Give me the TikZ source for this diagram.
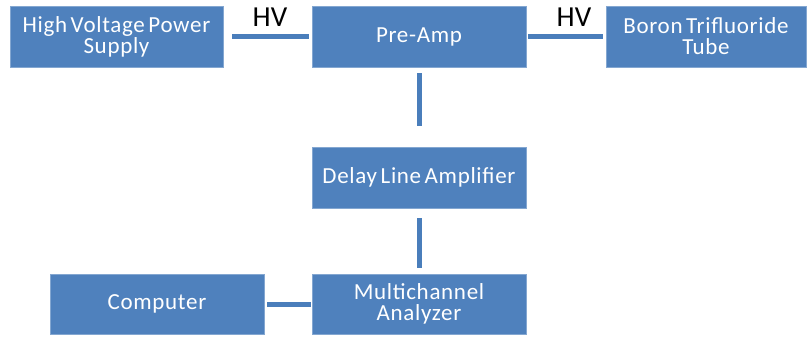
\documentclass[tikz,border=0pt]{standalone}
\usepackage{fontspec}
\setmainfont{Carlito}
\newfontfamily\boxfont[LetterSpace=3,WordSpace=0.6]{Carlito}
\definecolor{boxblue}{HTML}{4F81BD}
\definecolor{lineblue}{HTML}{4A7EBB}
\begin{document}
\begin{tikzpicture}[x=1pt,y=-1pt,
  blk/.style={fill=boxblue, draw=boxblue!70!white, line width=0.8pt, minimum height=61pt, inner sep=0pt,
    text=white, align=center, font=\boxfont\fontsize{23}{21}\selectfont},
  conn/.style={draw=lineblue, line width=5pt},
  hvlab/.style={font=\fontsize{29}{29}\selectfont, text=black, anchor=base, inner sep=0pt}]
\useasboundingbox (0,0) rectangle (809,337);
\node[blk, minimum width=213pt] (hv) at (116.5,36.5) {High Voltage Power\\Supply};
\node[blk, minimum width=214pt] (pre) at (419,36.5) {Pre-Amp};
\node[blk, minimum width=200pt] (bf) at (706,36.5) {Boron Trifluoride\\Tube};
\node[blk, minimum width=214pt] (dla) at (419,177.5) {Delay Line Amplifier};
\node[blk, minimum width=214pt, minimum height=60pt] (mca) at (419,304) {Multichannel\\Analyzer};
\node[blk, minimum width=214pt, minimum height=60pt] (comp) at (157,304) {Computer};
\draw[conn, shorten <=9pt, shorten >=3pt] (hv.east) -- (pre.west);
\draw[conn, shorten <=2pt, shorten >=3pt] (pre.east) -- (bf.west);
\draw[conn, shorten <=6pt, shorten >=21pt] (pre.south) -- (dla.north);
\draw[conn, shorten <=10pt, shorten >=6pt] (dla.south) -- (mca.north);
\draw[conn, shorten <=3pt, shorten >=1pt] (comp.east) -- (mca.west);
\node[hvlab] (hv1) at (270,27) {HV};
\node[hvlab] (hv2) at (574,27) {HV};
\end{tikzpicture}
\end{document}
